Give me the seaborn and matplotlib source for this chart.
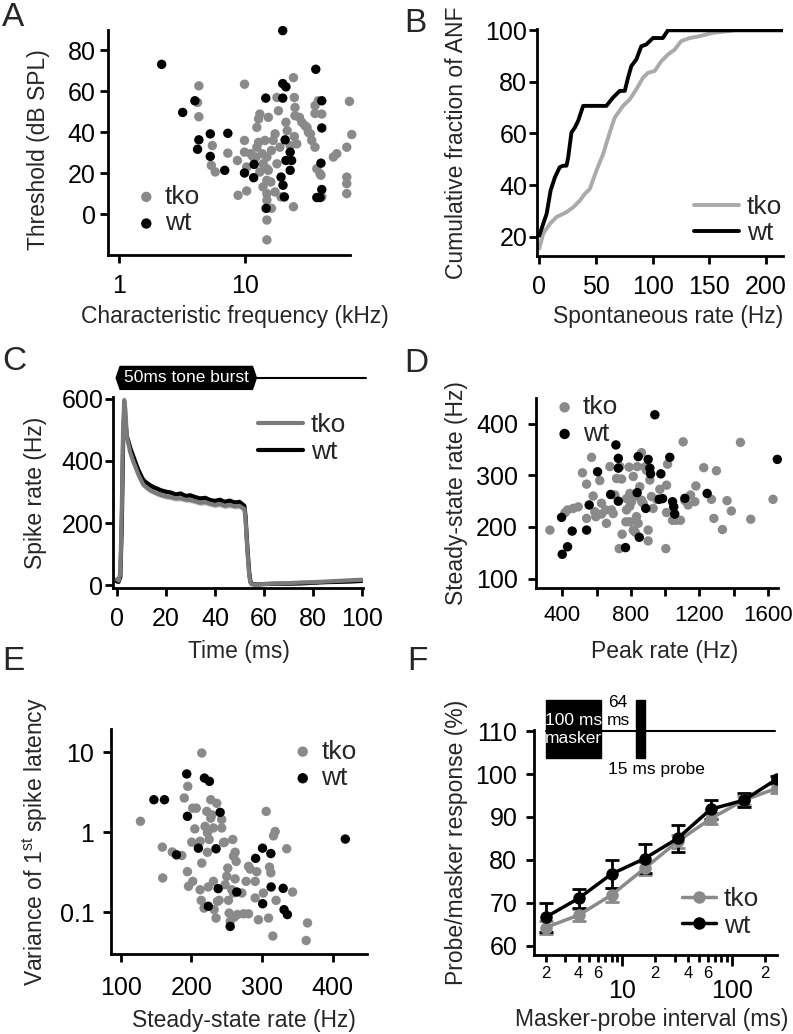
import numpy as np
import pandas as pd
import matplotlib
matplotlib.use('Agg')
import matplotlib.pyplot as plt
import matplotlib.transforms as mtransforms
from matplotlib.patches import Polygon, Rectangle
from matplotlib.ticker import FixedLocator, NullLocator, FuncFormatter, LogLocator
import seaborn as sns

sns.set_style('ticks')
plt.rcParams['font.family'] = ['Liberation Sans', 'DejaVu Sans']
plt.rcParams['mathtext.fontset'] = 'custom'
plt.rcParams['mathtext.rm'] = 'Liberation Sans'
plt.rcParams['axes.edgecolor'] = 'black'
plt.rcParams['xtick.color'] = 'black'
plt.rcParams['ytick.color'] = 'black'

# ---------------- data ----------------
# A: characteristic frequency (kHz) vs threshold (dB SPL)
a_wt_cf = [2.18, 3.2, 4.0, 4.3, 4.2, 5.3, 5.3, 7.3, 6.9, 9.9, 11.8, 11.7, 14.6, 14.7, 19.9, 19.9,
           21.1, 19.9, 20.8, 19.3, 20.0, 20.5, 22.8, 21.1, 23.4, 22.8, 36.4, 40.6, 40.6, 40.0,
           40.6, 37.1, 39.3]
a_wt_thr = [73.2, 49.7, 55.4, 36.3, 31.7, 39.2, 28.2, 39.5, 21.4, 20.1, 24.3, 17.8, 56.7, 2.8, 89.7, 63.8,
            62.2, 56.7, 36.3, 18.1, 14.1, 8.4, 30.3, 26.2, 26.2, 21.4, 70.8, 55.4, 42.1, 24.9,
            12.0, 8.1, 8.1]
a_tko_cf = [4.3, 4.2, 4.3, 5.5, 5.4, 5.8, 7.3, 8.8, 8.7, 9.9, 9.9, 9.9, 10.3, 10.3, 11.5, 12.4,
            12.8, 13.1, 12.4, 12.8, 13.7, 13.9, 14.4, 14.9, 15.3, 14.9, 14.9, 14.9, 14.9, 14.9,
            14.9, 16.0, 16.2, 16.7, 16.2, 17.3, 17.3, 17.9, 18.4, 17.9, 18.9, 19.3, 21.1, 21.6,
            22.8, 24.2, 24.2, 24.6, 24.9, 24.9, 24.6, 25.7, 27.0, 28.2, 29.9, 31.8, 31.0, 33.0,
            33.8, 35.9, 35.9, 35.9, 37.1, 38.1, 39.3, 40.6, 40.0, 40.6, 50.2, 53.4, 64.1, 64.1,
            64.1, 64.1, 67.3, 70.2, 11.1, 12.2, 13.1, 13.9, 15.3]
a_tko_thr = [62.7, 54.6, 47.6, 33.5, 23.8, 20.6, 29.8, 9.2, 26.2, 63.5, 36.0, 30.3, 11.3, 23.0, 28.2, 32.7,
             46.5, 48.9, 42.4, 35.1, 29.5, 24.6, 36.0, 27.9, 47.3, 22.2, 16.5, 10.0, 6.8, -2.9,
             -12.6, 15.7, 2.8, 36.0, 31.1, 39.2, 10.8, 24.6, 50.5, 57.0, 32.7, 8.4, 44.9, 40.8,
             33.5, 3.6, 66.7, 57.0, 52.1, 48.1, 37.9, 34.3, 47.3, 44.9, 43.2, 40.0, 42.4, 39.2,
             36.0, 32.7, 53.0, 49.2, 22.2, 55.4, 19.8, 48.9, 19.0, 8.4, 27.9, 29.5, 32.7, 18.1,
             14.9, 10.0, 55.1, 38.9, 29.5, 27.9, 20.6, 13.3, 21.4]

# B: cumulative fraction of ANF vs spontaneous rate
b_wt_sr = [0, 3.5, 6.5, 10, 13.8, 18, 21, 24, 25.5, 28.4, 31.4, 34.3, 38.7, 59.2, 65, 71, 75.4,
           78.3, 81.2, 85.6, 90, 94.4, 100.3, 109, 113.5, 215]
b_wt_cum = [20.4, 25, 28.9, 37.9, 43, 46.9, 47.5, 47.5, 50.7, 60.4, 62.3, 64.9, 70.7, 70.7, 73.9, 76.5, 76.5,
            81.6, 86.1, 88.7, 93.8, 94.5, 97, 97, 100, 100]
b_tko_sr = [0, 3.5, 9.4, 15.2, 24, 30, 35.8, 40.2, 44.6, 50.4, 56.3, 62.2, 66.6, 73.9, 79.8, 85.6,
            91.5, 95.9, 101.8, 107.6, 113.5, 119.4, 125.2, 132.6, 141.3, 153, 170.7]
b_tko_cum = [15.4, 21.2, 25, 27.6, 29.5, 31.4, 34, 36.6, 38.5, 45.6, 52, 60.4, 66.2, 70.7, 73.2, 77.1,
             81.6, 83.5, 84.2, 88, 90.6, 92.5, 95.8, 97, 97.7, 99, 99.9]

# C: PSTH
c_time = [0, 0.7, 1.4, 2.0, 2.5, 3.0, 3.5, 4.0, 4.8, 5.5, 6.8, 7.8, 8.8, 10, 10.9, 12, 13.6, 15, 16.3, 18,
          20.4, 22, 24, 26, 28, 30, 32, 34, 36, 38, 40, 42, 44, 46, 48, 50, 51, 52, 52.5, 53,
          53.5, 54, 54.5, 55, 56, 58, 60, 65, 70, 75, 80, 85, 90, 95, 100]
c_wt = [12, 11, 27, 200, 450, 560, 530, 480, 460, 440, 412, 390, 370, 350, 337, 330, 321, 315, 311, 305,
        300, 298, 292, 295, 287, 289, 283, 279, 281, 274, 271, 275, 268, 272, 266, 268, 262, 255, 220, 150,
        91, 40, 11, 5, 3, 3, 4, 5, 5, 6, 8, 10, 11, 12, 14]
c_tko = [20, 15, 40, 250, 500, 595, 560, 480, 450, 425, 395, 375, 355, 335, 322, 315, 305, 300, 295, 290,
         285, 283, 279, 280, 275, 274, 270, 265, 267, 262, 258, 261, 255, 258, 254, 255, 250, 245, 210, 140,
         80, 30, 8, 3, 2, 3, 4, 6, 7, 9, 10, 12, 14, 16, 18]
c_wt_sem = [5, 5, 8, 20, 25, 25, 20, 15, 12, 12, 10, 10, 10, 9, 9, 9, 9, 8, 8, 8,
            8, 8, 8, 8, 8, 8, 8, 8, 8, 8, 8, 8, 8, 8, 8, 8, 8, 8, 8, 8,
            6, 4, 3, 3, 3, 3, 3, 3, 3, 3, 3, 3, 3, 3, 3]
c_tko_sem = [6, 6, 10, 25, 30, 30, 25, 18, 14, 13, 12, 12, 11, 10, 10, 10, 9, 9, 9, 9,
             9, 9, 9, 9, 9, 9, 9, 9, 9, 9, 9, 9, 9, 9, 9, 9, 9, 9, 9, 9,
             7, 5, 4, 4, 4, 4, 4, 4, 4, 4, 4, 4, 4, 4, 4]
tone_on, tone_off, trace_end = 1.3, 55.3, 101.7

# D: peak rate vs steady-state rate
d_wt_peak = [396, 400, 431, 458, 542, 557, 606, 713, 727, 727, 682, 727, 769, 837, 843, 849, 901, 911,
             915, 887, 940, 965, 975, 1027, 1043, 1050, 1056, 1115, 1245, 1654, 985]
d_wt_ss = [218.6, 147, 161.6, 192, 194, 242.6, 307, 359, 333, 314, 263, 250, 160, 266.5, 336.5, 180, 331, 314,
           303, 236, 417.5, 253.6, 303, 335, 249, 239, 225, 255.5, 265, 331, 255]
d_tko_peak = [328, 416, 431, 464, 493, 518, 542, 542, 571, 580, 590, 596, 619, 629, 654, 658, 678, 687,
              697, 707, 717, 732, 736, 746, 749, 775, 790, 794, 794, 814, 824, 825, 837, 852, 862, 864,
              872, 882, 891, 901, 901, 911, 920, 930, 950, 969, 1004, 1008, 1014, 1043, 1062, 1089, 1105,
              1115, 1134, 1148, 1173, 1179, 1225, 1270, 1284, 1299, 1334, 1361, 1386, 1439, 1499, 1629,
              814, 794, 775, 804, 833, 843, 862, 771, 629, 1008]
d_tko_ss = [194, 227.7, 233, 236, 239, 305, 283, 216.6, 335, 260, 229.6, 220, 290, 225, 233, 207, 317, 233,
            226, 262, 294, 158, 317, 293, 186, 233, 316, 265, 210, 298, 260, 190, 317, 278, 344, 249,
            246, 316, 310, 194, 173, 291, 259, 236, 253.6, 273, 158, 281, 321.6, 213, 213, 213, 365,
            251, 242.6, 262, 249, 279.5, 315, 253.6, 216.6, 309, 195, 251, 231, 364, 215, 253.6,
            194, 240, 255, 249, 220, 207, 252, 210, 246, 228]

# E: steady-state rate vs variance of first spike latency
e_wt_ss = [147, 162, 179, 193.5, 194.5, 210, 218.6, 225.7, 224, 235, 240.8, 238, 255, 264.4, 291, 300.8,
           312.6, 301, 313, 330, 331.3, 336, 418]
e_wt_var = [2.55, 2.55, 0.52, 5.36, 1.58, 0.63, 4.76, 4.33, 0.118, 0.62, 1.77, 0.196, 0.066, 0.178, 0.47, 0.63,
            0.54, 0.127, 0.206, 0.198, 0.107, 0.093, 0.82]
e_tko_ss = [128, 159, 159.5, 173, 186.5, 190, 195, 194.5, 196, 200.6, 202, 207, 202, 205, 212.4, 212.4, 214,
            214.8, 214.8, 219.5, 218, 221.9, 222.8, 222.8, 224, 225.2, 227.5, 227.5, 229, 231.3, 231.3, 232.3,
            235, 236, 237, 239.4, 243, 243, 245.5, 247, 247.9, 250.2, 251.6, 252.6, 253.5, 255, 257.3, 258.7,
            259.7, 259.7, 260.6, 262, 262, 263.5, 265.3, 271.5, 274, 277.6, 281, 281, 283.3, 290.4, 290.4,
            292.7, 295, 302, 306, 309.3, 310.7, 312.6, 316.4, 318.7, 315.4, 320, 335, 343.3, 364.5, 362.6]
e_tko_var = [1.37, 0.65, 0.267, 0.565, 0.51, 2.68, 3.75, 0.32, 0.21, 0.75, 2.0, 2.0, 0.242, 1.1, 0.77, 0.19, 0.14,
             9.8, 0.41, 1.18, 0.112, 1.82, 0.98, 0.56, 0.206, 0.81, 2.55, 1.5, 1.65, 1.13, 0.242, 0.107,
             0.084, 2.3, 0.136, 0.14, 1.44, 1.13, 0.74, 0.75, 0.22, 0.28, 0.355, 0.14, 0.097, 0.076, 0.19, 0.81,
             0.5, 0.173, 0.086, 0.56, 0.26, 0.43, 0.093, 0.173, 0.095, 0.242, 0.095, 0.373, 0.345, 0.242, 0.15,
             0.32, 0.08, 0.173, 1.82, 0.084, 0.365, 0.31, 0.9, 1.02, 0.05, 0.14, 0.62, 0.178, 0.073, 0.044]

# F: forward masking recovery
f_interval = [2, 4, 8, 16, 32, 64, 128, 256]
f_wt = [66.6, 71.0, 76.7, 80.3, 85.0, 91.8, 93.9, 98.8]
f_wt_sem = [3.4, 2.3, 3.2, 3.3, 3.2, 2.2, 1.6, 0.8]
f_tko = [64.2, 67.1, 71.8, 78.0, 84.3, 89.6, 93.9, 96.7]
f_tko_sem = [1.5, 1.4, 1.7, 1.6, 1.5, 1.3, 1.0, 1.0]

GREY = '#8a8a8a'
LIGHT = '#aaaaaa'
MID = '#7a7a7a'
TICK = 18
LAB = 16.5
LEG = 19

W, H = 793, 1034
fig = plt.figure(figsize=(W / 100, H / 100), dpi=100)


def add_ax(l, r, t, b):
    return fig.add_axes([l / W, 1 - b / H, (r - l) / W, (b - t) / H])


def style(ax, xpad=3, ypad=3):
    sns.despine(ax=ax)
    for s in ['left', 'bottom']:
        ax.spines[s].set_linewidth(2)
    ax.tick_params(which='major', width=2, length=6, labelsize=TICK)
    ax.tick_params(which='minor', width=2, length=4)
    ax.tick_params(axis='x', which='major', pad=xpad)
    ax.tick_params(axis='y', which='major', pad=ypad)


def scatter_pair(ax, x1, y1, x2, y2):
    sns.scatterplot(x=x1, y=y1, color=GREY, s=46, edgecolor='none', label='tko', ax=ax, clip_on=False)
    sns.scatterplot(x=x2, y=y2, color='black', s=46, edgecolor='none', label='wt', ax=ax, clip_on=False)


leg_kw = dict(frameon=False, fontsize=LEG, handletextpad=0.2, labelspacing=0.1,
              borderaxespad=0, handlelength=1.0, markerscale=1.1)


def labels(ax, xl, yl, xc, yc):
    ax.set_xlabel(xl, fontsize=LAB)
    ax.set_ylabel(yl, fontsize=LAB)
    ax.xaxis.set_label_coords(*xc)
    ax.yaxis.set_label_coords(*yc)
    ax.xaxis.label.set_va('top')


# ---- A ----
ax = add_ax(108, 350, 30, 255)
scatter_pair(ax, a_tko_cf, a_tko_thr, a_wt_cf, a_wt_thr)
ax.set_xscale('log')
ax.set_xlim(0.818, 68)
ax.set_ylim(-20, 90)
ax.xaxis.set_major_locator(FixedLocator([1, 10]))
ax.xaxis.set_major_formatter(FuncFormatter(lambda v, p: f'{v:g}'))
ax.xaxis.set_minor_locator(NullLocator())
ax.set_yticks([0, 20, 40, 60, 80])
style(ax, xpad=8, ypad=3)
labels(ax, 'Characteristic frequency (kHz)', 'Threshold (dB SPL)', (0.525, -0.222), (-0.24, 0.47))
ax.legend(loc='lower left', bbox_to_anchor=(0.06, 0.04), **leg_kw)

# ---- B ----
ax = add_ax(537, 783, 29, 256)
sns.lineplot(x=b_tko_sr, y=b_tko_cum, color=LIGHT, lw=2.8, label='tko', ax=ax)
sns.lineplot(x=b_wt_sr, y=b_wt_cum, color='black', lw=2.8, label='wt', ax=ax)
ax.set_xlim(-2, 215)
ax.set_ylim(12.5, 100.5)
ax.set_xticks([0, 50, 100, 150, 200])
ax.set_yticks([20, 40, 60, 80, 100])
style(ax, xpad=8, ypad=1)
labels(ax, 'Spontaneous rate (Hz)', 'Cumulative fraction of ANF', (0.533, -0.216), (-0.28, 0.5))
ax.legend(loc='lower right', bbox_to_anchor=(1.04, 0.0), frameon=False, fontsize=LEG,
          handletextpad=0.3, labelspacing=0.1, borderaxespad=0, handlelength=1.7)

# ---- C ----
ax = add_ax(113, 363, 397, 588)
ax.fill_between(c_time, np.array(c_tko) - np.array(c_tko_sem), np.array(c_tko) + np.array(c_tko_sem),
                color='#c8c8c8', lw=0)
ax.fill_between(c_time, np.array(c_wt) - np.array(c_wt_sem), np.array(c_wt) + np.array(c_wt_sem),
                color='#b4b4b4', lw=0)
sns.lineplot(x=c_time, y=c_wt, color='black', lw=2.2, label='wt', ax=ax)
sns.lineplot(x=c_time, y=c_tko, color=MID, lw=2.2, label='tko', ax=ax)
ax.set_xlim(-1.6, 100.4)
ax.set_ylim(-8.7, 605)
ax.set_xticks([0, 20, 40, 60, 80, 100])
ax.set_yticks([0, 200, 400, 600])
style(ax, xpad=8, ypad=1)
labels(ax, 'Time (ms)', 'Spike rate (Hz)', (0.505, -0.272), (-0.264, 0.5))
h, l = ax.get_legend_handles_labels()
for hh in h:
    hh.set_linewidth(3)
ax.legend([h[1], h[0]], [l[1], l[0]], loc='upper right', bbox_to_anchor=(0.975, 0.97), frameon=False,
          fontsize=LEG, handletextpad=0.3, labelspacing=0.1, borderaxespad=0, handlelength=1.7)
# stimulus marker above the PSTH
tr = mtransforms.blended_transform_factory(ax.transData, ax.transAxes)
yc, hh_ = 1.10, 0.06
hexagon = Polygon([(tone_on - 1.6, yc), (tone_on, yc + hh_), (tone_off, yc + hh_), (tone_off + 1.6, yc),
                   (tone_off, yc - hh_), (tone_on, yc - hh_)], closed=True, color='black',
                  transform=tr, clip_on=False)
ax.add_patch(hexagon)
ax.plot([tone_off, trace_end], [yc, yc], color='black', lw=1.5, transform=tr, clip_on=False)
ax.text((tone_on + tone_off) / 2, yc, '50ms tone burst', color='white', fontsize=12.5,
        ha='center', va='center', transform=tr)

# ---- D ----
ax = add_ax(536, 778, 398, 588)
scatter_pair(ax, d_tko_peak, d_tko_ss, d_wt_peak, d_wt_ss)
ax.set_xlim(247, 1658)
ax.set_ylim(81.7, 450)
ax.set_xticks([400, 800, 1200, 1600])
ax.xaxis.set_minor_locator(FixedLocator([600, 1000, 1400]))
ax.set_yticks([100, 200, 300, 400])
style(ax, xpad=6, ypad=7)
ax.tick_params(which='minor', length=6)
ax.tick_params(axis='x', labelsize=16)
labels(ax, 'Peak rate (Hz)', 'Steady-state rate (Hz)', (0.533, -0.274), (-0.281, 0.5))
ax.legend(loc='upper left', bbox_to_anchor=(0.02, 1.07), **leg_kw)

# ---- E ----
ax = add_ax(111, 367, 729, 954)
scatter_pair(ax, e_tko_ss, e_tko_var, e_wt_ss, e_wt_var)
ax.set_yscale('log')
ax.set_xlim(86.3, 448.7)
ax.set_ylim(0.0298, 19.6)
ax.set_xticks([100, 200, 300, 400])
ax.yaxis.set_major_locator(FixedLocator([0.1, 1, 10]))
ax.yaxis.set_major_formatter(FuncFormatter(lambda v, p: f'{v:g}'))
ax.yaxis.set_minor_locator(NullLocator())
style(ax, xpad=10, ypad=6)
labels(ax, 'Steady-state rate (Hz)', 'Variance of 1$^{\\rm st}$ spike latency', (0.52, -0.244),
       (-0.238, 0.5))
ax.legend(loc='upper right', bbox_to_anchor=(1.0, 1.0), **leg_kw)

# ---- F ----
ax = add_ax(534, 777, 730, 955)
ax.errorbar(f_interval, f_tko, yerr=f_tko_sem, fmt='none', ecolor=GREY, elinewidth=2, capsize=5, capthick=2)
ax.errorbar(f_interval, f_wt, yerr=f_wt_sem, fmt='none', ecolor='black', elinewidth=2, capsize=5, capthick=2)
sns.lineplot(x=f_interval, y=f_tko, color=GREY, lw=2.5, marker='o', markersize=9, markeredgewidth=0,
             label='tko', ax=ax)
sns.lineplot(x=f_interval, y=f_wt, color='black', lw=2.5, marker='o', markersize=9, markeredgewidth=0,
             label='wt', ax=ax)
ax.set_xscale('log')
ax.set_xlim(1.57, 258)
ax.set_ylim(57.8, 110.3)
ax.set_yticks([60, 70, 80, 90, 100, 110])
ax.xaxis.set_major_locator(FixedLocator([10, 100]))
ax.xaxis.set_major_formatter(FuncFormatter(lambda v, p: f'{v:g}'))
ax.xaxis.set_minor_locator(LogLocator(base=10, subs=range(2, 10)))


def minor_label(v, p):
    lead = int(round(v / 10 ** np.floor(np.log10(v) + 1e-9)))
    return str(lead) if lead in (2, 4, 6) and v < 300 else ''


ax.xaxis.set_minor_formatter(FuncFormatter(minor_label))
style(ax, xpad=9, ypad=6)
ax.tick_params(axis='x', which='major', length=8)
ax.tick_params(axis='x', which='minor', length=5, labelsize=12, pad=3)
labels(ax, 'Masker-probe interval (ms)', 'Probe/masker response (%)', (0.484, -0.234), (-0.272, 0.5))
ax.legend(loc='lower right', bbox_to_anchor=(0.97, 0.03), frameon=False, fontsize=LEG,
          handletextpad=0.3, labelspacing=0.1, borderaxespad=0, handlelength=1.3)
# masker / probe schematic
ax.plot([2, 250], [110, 110], color='black', lw=1.5, clip_on=False)
ax.add_patch(Rectangle((2, 103.7), 4.4, 13.6, color='black', clip_on=False))
ax.add_patch(Rectangle((13.3, 103.7), 3.0, 13.6, color='black', clip_on=False))
ax.text(3.58, 110.4, '100 ms\nmasker', color='white', fontsize=12.5, ha='center', va='center',
        linespacing=1.2)
ax.text(9.2, 114.6, '64\nms', color='black', fontsize=12.5, ha='center', va='center', linespacing=1.2)
ax.text(7.45, 101.1, '15 ms probe', color='black', fontsize=12.5, ha='left', va='center')

# panel letters
for letter, x, y in [('A', 2, 2), ('B', 404, 8), ('C', 2, 346), ('D', 404, 348), ('E', 2, 646),
                     ('F', 407, 646)]:
    fig.text(x / W, 1 - y / H, letter, fontsize=24, ha='left', va='top')

fig.savefig('out.png', dpi=100)
